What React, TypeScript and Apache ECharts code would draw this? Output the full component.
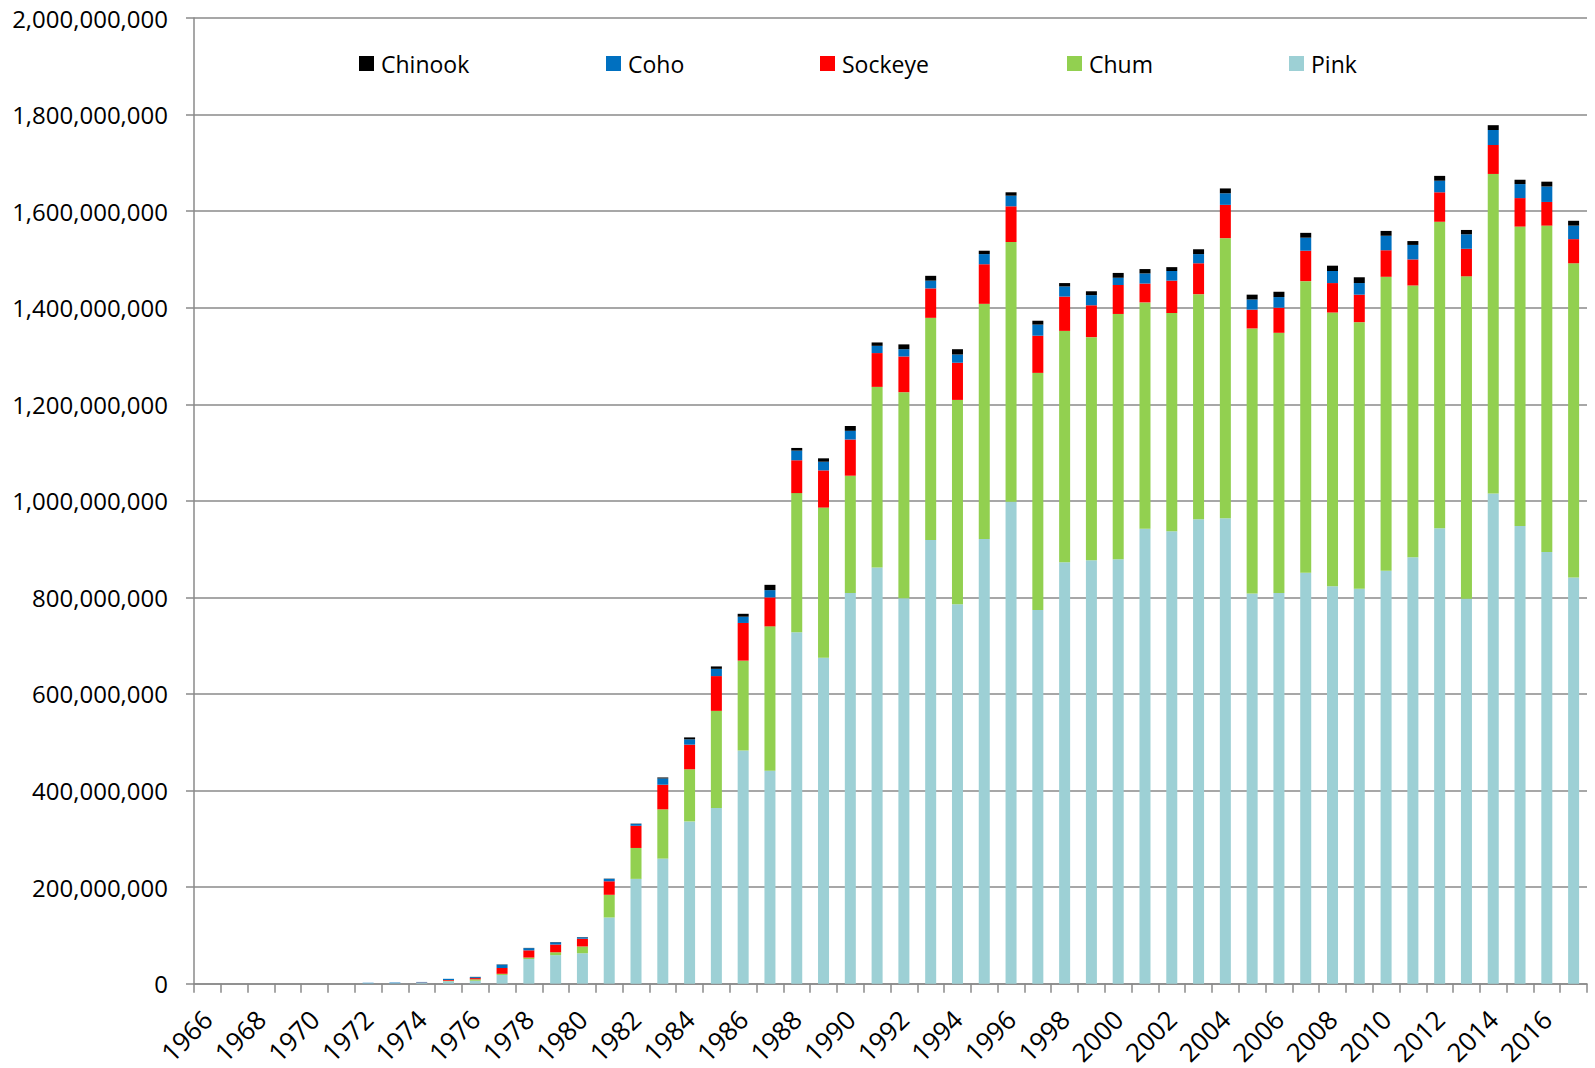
import React, { useEffect, useRef } from "react";
import * as echarts from "echarts";

// Values in millions of fish
const years: string[] = [
  "1966","1967","1968","1969","1970","1971","1972","1973","1974","1975",
  "1976","1977","1978","1979","1980","1981","1982","1983","1984","1985",
  "1986","1987","1988","1989","1990","1991","1992","1993","1994","1995",
  "1996","1997","1998","1999","2000","2001","2002","2003","2004","2005",
  "2006","2007","2008","2009","2010","2011","2012","2013","2014","2015",
  "2016","2017",
];

const pink: number[] = [
  0, 0, 0, 0, 0, 0, 1, 1, 2, 5,
  6, 18, 51, 59, 63, 137, 217, 259, 336, 364,
  483, 441, 728, 675, 809, 862, 798, 919, 786, 921,
  998, 774, 873, 877, 879, 942, 937, 962, 964, 808,
  809, 851, 823, 818, 855, 883, 943, 797, 1015, 948,
  894, 841,
];

const chum: number[] = [
  0, 0, 0, 0, 0, 0, 0, 0, 0, 1,
  3, 2.4, 3, 6, 14, 47, 64, 102, 108, 201,
  186, 299, 288, 311, 243, 374, 427, 460, 423, 487,
  538, 491, 479, 462, 508, 469, 452, 466, 580, 549,
  539, 604, 567, 552, 609, 563, 635, 668, 662, 620,
  676, 651,
];

const sockeye: number[] = [
  0, 0, 0, 0, 0, 0, 0, 0, 0.5, 1.5,
  2.5, 12, 15, 16, 16, 28, 46, 51, 51, 72,
  78, 60, 68, 77, 75, 70, 74, 61, 77, 82,
  74, 77, 71, 66, 60, 39, 67, 64, 69, 39,
  52, 63, 61, 57, 55, 54, 61, 57, 60, 59,
  49, 50,
];

const coho: number[] = [
  0, 0, 0, 0, 0, 0, 0.8, 1.2, 1, 2.5,
  2, 7, 4.5, 4.7, 3, 5, 4, 13, 11, 15,
  13, 15, 20, 18, 18, 15, 15, 16, 17, 21,
  22, 23, 21, 21, 15, 21, 20, 19, 24, 21,
  22, 27, 25, 24, 30, 30, 24, 30, 31, 29,
  32, 28,
];

const chinook: number[] = [
  0, 0, 0, 0, 0, 0, 0, 0, 0, 0,
  0.5, 0.5, 0.5, 0.5, 0.5, 0.5, 0.5, 2, 4, 5,
  6, 11, 5.5, 7, 10, 7, 10, 10, 11, 7,
  7, 8, 7, 8, 10, 9, 8, 10, 10, 10,
  11, 10, 11, 12, 10, 8, 10, 9, 10, 9,
  10, 10,
];

const yTicks = { min: 0, max: 2000, interval: 200 };

const FONT = "'Open Sans', 'Liberation Sans', sans-serif";

const speciesColors: Record<string, string> = {
  Pink: "#9DD0D5",
  Chum: "#92D050",
  Sockeye: "#FF0000",
  Coho: "#0070C0",
  Chinook: "#000000",
};

const legendOrder = ["Chinook", "Coho", "Sockeye", "Chum", "Pink"];
const legendLefts = [359, 606, 820, 1067, 1289];

export default function App() {
  const ref = useRef<HTMLDivElement>(null);

  useEffect(() => {
    if (!ref.current) return;
    const chart = echarts.init(ref.current, undefined, { renderer: "svg" });

    const seriesDefs: [string, number[]][] = [
      ["Pink", pink],
      ["Chum", chum],
      ["Sockeye", sockeye],
      ["Coho", coho],
      ["Chinook", chinook],
    ];

    const option: any = {
      animation: false,
      backgroundColor: "#ffffff",
      textStyle: { fontFamily: FONT },
      grid: { left: 194, right: 8, top: 18, bottom: 83, containLabel: false },
      legend: legendOrder.map((name, i) => ({
        data: [name],
        left: legendLefts[i],
        top: 52,
        padding: 0,
        icon: "rect",
        itemWidth: 15,
        itemHeight: 15,
        selectedMode: false,
        textStyle: {
          fontFamily: FONT,
          fontSize: 23,
          color: "#000",
          padding: [0, 0, 0, 2],
        },
      })),
      xAxis: {
        type: "category",
        data: years,
        boundaryGap: true,
        axisLine: { show: true, lineStyle: { color: "#8a8a8a", width: 1.5 } },
        axisTick: {
          show: true,
          interval: 0,
          alignWithLabel: false,
          length: 9,
          lineStyle: { color: "#8a8a8a", width: 1.5 },
        },
        axisLabel: {
          interval: 1,
          rotate: 45,
          margin: 31,
          fontSize: 26,
          fontFamily: FONT,
          color: "#000",
        },
      },
      yAxis: {
        type: "value",
        min: yTicks.min,
        max: yTicks.max,
        interval: yTicks.interval,
        axisLine: { show: true, lineStyle: { color: "#8a8a8a", width: 1.5 } },
        axisTick: {
          show: true,
          length: 8,
          lineStyle: { color: "#8a8a8a", width: 1.5 },
        },
        splitLine: { show: true, lineStyle: { color: "#8a8a8a", width: 1.5 } },
        axisLabel: {
          fontSize: 24,
          fontFamily: FONT,
          color: "#000",
          margin: 26,
          formatter: (v: number) => (v * 1000000).toLocaleString("en-US"),
        },
      },
      series: seriesDefs.map(([name, data]) => ({
        name,
        type: "bar",
        stack: "total",
        data,
        barWidth: 11,
        itemStyle: { color: speciesColors[name] },
      })),
    };

    chart.setOption(option);
    return () => chart.dispose();
  }, []);

  return (
    <div
      ref={ref}
      style={{ position: "fixed", left: 0, top: 0, width: "1595px", height: "1068px" }}
    />
  );
}
